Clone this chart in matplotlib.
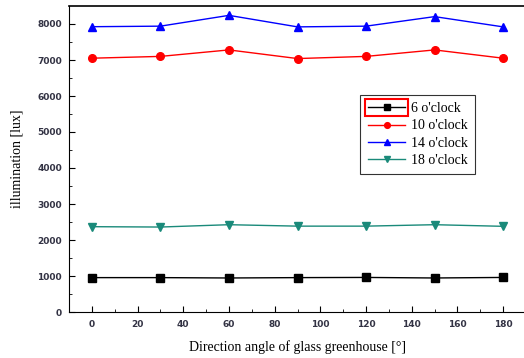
import matplotlib.pyplot as plt
from matplotlib.patches import Rectangle

angles = [0, 30, 60, 90, 120, 150, 180]
lux_6 = [955, 955, 945, 955, 960, 945, 960]
lux_10 = [7050, 7100, 7280, 7040, 7100, 7280, 7050]
lux_14 = [7925, 7940, 8240, 7920, 7940, 8205, 7920]
lux_18 = [2370, 2360, 2425, 2385, 2385, 2425, 2380]

fig = plt.figure(figsize=(5.24, 3.58), dpi=100)
ax = fig.add_axes([69 / 524, 46 / 358, 457 / 524, 306 / 358])

serif = ['Liberation Serif', 'DejaVu Serif']

ax.plot(angles, lux_6, color='black', marker='s', markersize=5.5, lw=1, label="6 o'clock")
ax.plot(angles, lux_10, color='red', marker='o', markersize=5.5, lw=1, label="10 o'clock")
ax.plot(angles, lux_14, color='blue', marker='^', markersize=6, lw=1, label="14 o'clock")
ax.plot(angles, lux_18, color='#1a8a7a', marker='v', markersize=6, lw=1, label="18 o'clock")

ax.set_xlim(-10, 190)
ax.set_ylim(0, 8500)
ax.spines['right'].set_visible(False)
ax.spines['top'].set_linewidth(1.2)
ax.set_xticks(range(0, 181, 20))
ax.set_xticks(range(10, 190, 20), minor=True)
ax.set_yticks(range(0, 8001, 1000))
ax.set_yticks(range(500, 8500, 1000), minor=True)
ax.tick_params(which='both', direction='in', labelsize=6.5, labelcolor='#333344')
ax.tick_params(which='major', length=4)
ax.tick_params(which='minor', length=2.5)
for lbl in ax.get_xticklabels() + ax.get_yticklabels():
    lbl.set_fontweight('bold')
ax.tick_params(axis='x', pad=6)
ax.tick_params(axis='y', pad=5)

ax.set_xlabel('Direction angle of glass greenhouse [°]', family=serif, fontsize=10, labelpad=8)
ax.set_ylabel('illumination [lux]', family=serif, fontsize=10, labelpad=10)

leg = ax.legend(loc='upper left', bbox_to_anchor=(0.622, 0.733), prop={'family': serif, 'size': 10},
                frameon=True, fancybox=False, edgecolor='black', handlelength=2.7,
                markerscale=0.75, handletextpad=0.4, labelspacing=0.3, borderpad=0.55)
leg.get_frame().set_linewidth(0.8)

# red box around the first legend handle
fig.canvas.draw()
bb = leg.legend_handles[0].get_window_extent().transformed(fig.transFigure.inverted())
yc = (bb.y0 + bb.y1) / 2
fig.patches.append(Rectangle((bb.x0, yc - 8.5 / 358), bb.width, 17 / 358,
                             transform=fig.transFigure, fill=False, edgecolor='red', lw=1.5))

fig.savefig('out.png', dpi=100)
